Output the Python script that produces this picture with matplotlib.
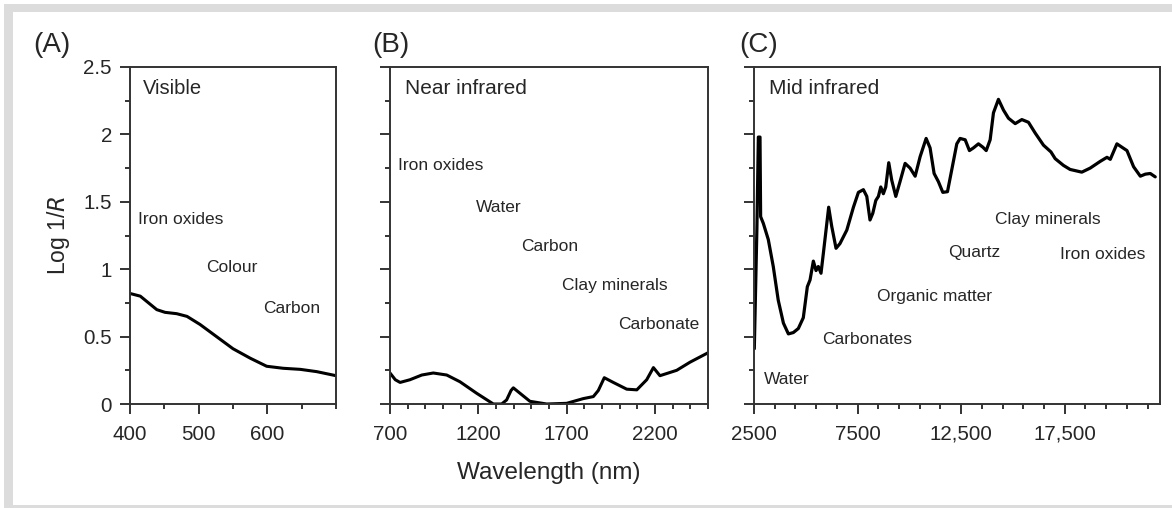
import matplotlib
matplotlib.use("Agg")
import matplotlib.pyplot as plt
from matplotlib.patches import Rectangle
from matplotlib.ticker import MultipleLocator, FixedLocator, FuncFormatter

plt.rcParams['font.family'] = ['Liberation Sans', 'DejaVu Sans']

# ---- Data ----
vis_wl = [400, 415, 439, 451, 468, 483, 502, 526, 550, 575, 599, 623, 648, 672, 700]
vis_val = [0.82, 0.80, 0.70, 0.68, 0.67, 0.65, 0.59, 0.50, 0.41, 0.34, 0.28, 0.265, 0.257, 0.24, 0.21]

nir_wl = [700, 730, 757, 813, 880, 945, 1021, 1096, 1190, 1285, 1332, 1360, 1385, 1398, 1426,
          1492, 1587, 1700, 1794, 1851, 1879, 1913, 1964, 2040, 2097, 2153, 2191, 2228, 2323, 2398, 2500]
nir_val = [0.23, 0.18, 0.16, 0.18, 0.215, 0.23, 0.215, 0.165, 0.08, 0.0, 0.0, 0.03, 0.10, 0.12, 0.09,
           0.02, 0.0, 0.005, 0.04, 0.055, 0.10, 0.195, 0.16, 0.11, 0.105, 0.18, 0.27, 0.21, 0.25, 0.31, 0.38]

mir_wl = [2515, 2640, 2710, 2790, 2820, 2950, 3190, 3430, 3670, 3920, 4160, 4400, 4640, 4880,
          5075, 5205, 5365, 5495, 5605, 5735, 5850, 6105, 6250, 6460, 6650, 6980, 7300, 7540,
          7780, 7945, 8100, 8235, 8380, 8505, 8620, 8745, 8860, 9005, 9150, 9345, 9550, 9795,
          10035, 10280, 10520, 10810, 11000, 11195, 11400, 11615, 11840, 12050, 12290, 12450,
          12695, 12900, 13095, 13335, 13550, 13710, 13900, 14060, 14300, 14545, 14785, 15110,
          15430, 15750, 16075, 16475, 16835, 17040, 17440, 17760, 18325, 18730, 19215, 19540,
          19700, 20020, 20260, 20505, 20825, 21150, 21390, 21630, 21870]
mir_val = [0.41, 1.30, 1.98, 1.98, 1.39, 1.34, 1.22, 1.02, 0.77, 0.60, 0.52, 0.53, 0.56, 0.64,
           0.87, 0.92, 1.06, 0.99, 1.02, 0.97, 1.12, 1.46, 1.32, 1.155, 1.19, 1.29, 1.46, 1.57,
           1.59, 1.54, 1.365, 1.415, 1.51, 1.54, 1.61, 1.56, 1.61, 1.79, 1.66, 1.54, 1.65, 1.785,
           1.75, 1.69, 1.835, 1.97, 1.90, 1.71, 1.65, 1.57, 1.575, 1.74, 1.93, 1.97,
           1.96, 1.88, 1.90, 1.93, 1.905, 1.88, 1.96, 2.16, 2.26, 2.18, 2.12, 2.08,
           2.11, 2.09, 2.01, 1.92, 1.87, 1.82, 1.77, 1.74, 1.72, 1.75, 1.80, 1.83,
           1.815, 1.93, 1.905, 1.88, 1.76, 1.69, 1.705, 1.71, 1.685]

vis_labels = ["Visible", "Iron oxides", "Colour", "Carbon"]
vis_lx = [419, 412, 511, 594]
vis_ly = [2.34, 1.37, 1.01, 0.71]

nir_labels = ["Near infrared", "Iron oxides", "Water", "Carbon", "Clay minerals", "Carbonate"]
nir_lx = [785, 743, 1187, 1441, 1675, 1992]
nir_ly = [2.34, 1.77, 1.46, 1.17, 0.88, 0.59]

mir_labels = ["Mid infrared", "Water", "Carbonates", "Organic matter", "Quartz", "Clay minerals", "Iron oxides"]
mir_lx = [3225, 3000, 5770, 8430, 11890, 14140, 17250]
mir_ly = [2.34, 0.18, 0.48, 0.80, 1.125, 1.37, 1.11]

panel_letters = ["(A)", "(B)", "(C)"]
ytick_vals = [0, 0.5, 1, 1.5, 2, 2.5]
ytick_text = ["0", "0.5", "1", "1.5", "2", "2.5"]
vis_xticks = [400, 500, 600]
nir_xticks = [700, 1200, 1700, 2200]
mir_xticks = [2500, 7500, 12500, 17500]
mir_xtick_text = ["2500", "7500", "12,500", "17,500"]

# ---- Figure ----
W, H = 1172, 508
fig = plt.figure(figsize=(W / 100, H / 100), dpi=100)
fig.patch.set_facecolor("white")
fig.patches.append(Rectangle((4, 0), W - 4, H - 4, transform=None,
                             facecolor="#dcdcdc", edgecolor="none", zorder=-10))
fig.patches.append(Rectangle((13, 3), W - 13, H - 15, transform=None,
                             facecolor="white", edgecolor="none", zorder=-9))

TXT = "#262626"
SP = "#333333"


def make_ax(x0, x1):
    y0, y1 = 67, 404
    return fig.add_axes([x0 / W, (H - y1) / H, (x1 - x0) / W, (y1 - y0) / H])


def style(ax):
    for s in ax.spines.values():
        s.set_linewidth(1.4)
        s.set_color(SP)
    ax.tick_params(which="major", direction="out", length=7, width=1.4, color=SP,
                   labelsize=14.8, labelcolor=TXT, pad=6)
    ax.tick_params(axis="x", which="major", pad=8)
    ax.tick_params(which="minor", direction="out", length=3.8, width=1.4, color=SP)
    ax.set_ylim(0, 2.5)
    ax.yaxis.set_major_locator(FixedLocator(ytick_vals))
    ax.yaxis.set_minor_locator(MultipleLocator(0.25))
    ax.set_facecolor("white")


axA = make_ax(130, 336)
axB = make_ax(390, 708)
axC = make_ax(754, 1160)

for ax in (axA, axB, axC):
    style(ax)

# Panel A
axA.plot(vis_wl, vis_val, color="black", lw=2.2, solid_joinstyle="round", solid_capstyle="round")
axA.set_xlim(400, 700)
axA.xaxis.set_major_locator(FixedLocator(vis_xticks))
axA.xaxis.set_minor_locator(MultipleLocator(50))
axA.set_yticklabels(ytick_text)
axA.set_ylabel("Log 1/$\\mathit{R}$", fontsize=16.5, color=TXT, labelpad=8)
for t, x, y in zip(vis_labels, vis_lx, vis_ly):
    axA.text(x, y, t, fontsize=14.5 if t == "Visible" else 12.5, color=TXT,
             ha="left", va="center")

# Panel B
axB.plot(nir_wl, nir_val, color="black", lw=2.2, solid_joinstyle="round", solid_capstyle="round")
axB.set_xlim(700, 2500)
axB.xaxis.set_major_locator(FixedLocator(nir_xticks))
axB.xaxis.set_minor_locator(MultipleLocator(100))
axB.set_yticklabels([])
axB.set_xlabel("Wavelength (nm)", fontsize=17.5, color=TXT, labelpad=13)
for t, x, y in zip(nir_labels, nir_lx, nir_ly):
    axB.text(x, y, t, fontsize=15 if t == "Near infrared" else 12.5, color=TXT,
             ha="left", va="center")

# Panel C
axC.plot(mir_wl, mir_val, color="black", lw=2.3, solid_joinstyle="round", solid_capstyle="round")
axC.set_xlim(2500, 22100)
axC.xaxis.set_major_locator(FixedLocator(mir_xticks))
axC.xaxis.set_major_formatter(FuncFormatter(lambda v, p: mir_xtick_text[mir_xticks.index(int(round(v)))]
                                            if int(round(v)) in mir_xticks else ""))
axC.xaxis.set_minor_locator(FixedLocator(list(range(2500, 22000, 1000))))
axC.set_yticklabels([])
for t, x, y in zip(mir_labels, mir_lx, mir_ly):
    axC.text(x, y, t, fontsize=15 if t == "Mid infrared" else 12.5, color=TXT,
             ha="left", va="center")

# Panel letters
for t, x in zip(panel_letters, [33, 372, 739]):
    fig.text(x / W, (H - 45) / H, t, fontsize=20, color=TXT, ha="left", va="center")

fig.savefig("out.png", dpi=100)
